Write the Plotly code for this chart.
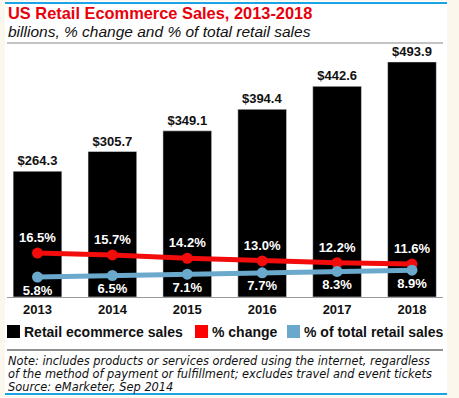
import plotly.graph_objects as go

years = ["2013", "2014", "2015", "2016", "2017", "2018"]
sales = [264.3, 305.7, 349.1, 394.4, 442.6, 493.9]
pct_change = [16.5, 15.7, 14.2, 13.0, 12.2, 11.6]
pct_total = [5.8, 6.5, 7.1, 7.7, 8.3, 8.9]

RED = "#f20c0c"
BLUE = "#6aa9cc"
FONT = "Liberation Sans"

fig = go.Figure()
fig.add_trace(go.Bar(
    x=years, y=sales, marker_color="#000000", width=0.65,
    text=[f"<b>${v:.1f}</b>" for v in sales], textposition="outside",
    textfont=dict(family=FONT, size=13, color="#111111"),
    cliponaxis=False, showlegend=False, hoverinfo="skip"))
fig.add_trace(go.Scatter(
    x=years, y=pct_change, yaxis="y2", mode="lines+markers+text",
    line=dict(color=RED, width=5), marker=dict(color=RED, size=11),
    text=[f"<b>{v:.1f}%</b>" for v in pct_change], textposition="top center",
    textfont=dict(family=FONT, size=13, color="white"),
    cliponaxis=False, showlegend=False, hoverinfo="skip"))
fig.add_trace(go.Scatter(
    x=years, y=pct_total, yaxis="y2", mode="lines+markers+text",
    line=dict(color=BLUE, width=5), marker=dict(color=BLUE, size=11),
    text=[f"<b>{v:.1f}%</b>" for v in pct_total], textposition="bottom center",
    textfont=dict(family=FONT, size=13, color="white"),
    cliponaxis=False, showlegend=False, hoverinfo="skip"))

W, H = 459, 398
L, R, T, B = 7, 16, 50, 101
pw, ph = W - L - R, H - T - B

def px(x):
    return (x - L) / pw

def py(y):
    return (H - B - y) / ph

shapes = [
    # white panel
    dict(type="rect", xref="paper", yref="paper", x0=px(5), x1=px(447), y0=py(396), y1=py(1),
         fillcolor="white", line_width=0, layer="below"),
    # top blue line
    dict(type="line", xref="paper", yref="paper", x0=px(5), x1=px(447), y0=py(3), y1=py(3),
         line=dict(color="#1ba3e3", width=2)),
    # gray line under subtitle
    dict(type="line", xref="paper", yref="paper", x0=px(7), x1=px(443), y0=py(43), y1=py(43),
         line=dict(color="#888888", width=1)),
    # line above note
    dict(type="line", xref="paper", yref="paper", x0=px(7), x1=px(443), y0=py(350), y1=py(350),
         line=dict(color="#222222", width=1)),
    # bottom blue line
    dict(type="line", xref="paper", yref="paper", x0=px(5), x1=px(447), y0=py(394), y1=py(394),
         line=dict(color="#1ba3e3", width=2)),
]
# legend squares
for x0, c in [(7, "#000000"), (195, "#ff0000"), (287, BLUE)]:
    shapes.append(dict(type="rect", xref="paper", yref="paper", x0=px(x0), x1=px(x0 + 13),
                       y0=py(338), y1=py(325), fillcolor=c, line_width=0))

annotations = [
    dict(text="<b>US Retail Ecommerce Sales, 2013-2018</b>", x=px(6), y=py(13), xref="paper", yref="paper",
         xanchor="left", yanchor="middle", showarrow=False, font=dict(family=FONT, size=16.4, color="#e8000b")),
    dict(text="<i>billions, % change and % of total retail sales</i>", x=px(6), y=py(32), xref="paper", yref="paper",
         xanchor="left", yanchor="middle", showarrow=False, font=dict(family=FONT, size=15.5, color="#111111")),
]
for x0, t in [(22, "Retail ecommerce sales"), (210, "% change"), (302, "% of total retail sales")]:
    annotations.append(dict(text=f"<b>{t}</b>", x=px(x0), y=py(331.5), xref="paper", yref="paper",
                            xanchor="left", yanchor="middle", showarrow=False,
                            font=dict(family=FONT, size=14, color="#111111")))
notes = [
    "Note: includes products or services ordered using the internet, regardless",
    "of the method of payment or fulfillment; excludes travel and event tickets",
    "Source: eMarketer, Sep 2014",
]
for i, t in enumerate(notes):
    annotations.append(dict(text=f"<i>{t}</i>", x=px(6), y=py(361 + 13 * i), xref="paper", yref="paper",
                            xanchor="left", yanchor="middle", showarrow=False,
                            font=dict(family="DejaVu Sans", size=11.4, color="#111111")))

fig.update_layout(
    width=W, height=H, margin=dict(l=L, r=R, t=T, b=B, pad=0),
    paper_bgcolor="#fcf7ec", plot_bgcolor="rgba(0,0,0,0)",
    font=dict(family=FONT, color="#111111"),
    xaxis=dict(type="category", range=[-0.407, 5.414], showline=True, linecolor="#999999", linewidth=1,
               showgrid=False, ticks="", tickfont=dict(family=FONT, size=13, color="#111111"),
               ticklabelstandoff=0, fixedrange=True),
    yaxis=dict(range=[0, 519], visible=False, showgrid=False, fixedrange=True),
    yaxis2=dict(range=[-3.1, 107.2], overlaying="y", visible=False, showgrid=False, fixedrange=True),
    shapes=shapes, annotations=annotations, bargap=0.35,
)
fig.update_xaxes(tickprefix="<b>", ticksuffix="</b>")
fig.write_html("out.html", config={"displayModeBar": False},
               post_script="document.body.style.margin='0';document.body.style.overflow='hidden';")
